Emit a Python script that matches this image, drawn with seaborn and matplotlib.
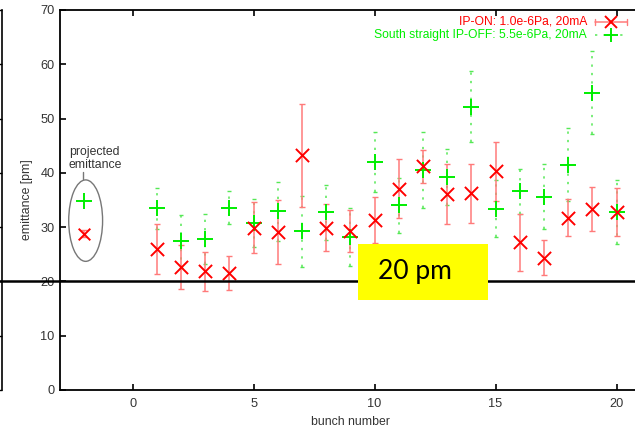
import numpy as np
import pandas as pd
import matplotlib
matplotlib.use("Agg")
import matplotlib.pyplot as plt
from matplotlib.patches import Ellipse, Rectangle
from matplotlib.lines import Line2D
import seaborn as sns

# Bunch-by-bunch vertical emittance [pm]
bunch = list(range(1, 21))
ip_on = [25.9, 22.7, 21.9, 21.5, 29.9, 29.1, 43.2, 29.9, 29.3, 31.3,
         37.1, 41.2, 36.1, 36.2, 40.3, 27.2, 24.4, 31.7, 33.3, 32.8]
ip_on_err = [4.6, 4.1, 3.6, 3.1, 4.7, 5.9, 9.5, 4.3, 3.8, 4.3,
             5.5, 3.1, 5.5, 5.5, 5.4, 5.3, 3.2, 3.4, 4.1, 4.5]
ip_off = [33.5, 27.4, 27.9, 33.6, 30.8, 32.9, 29.2, 32.7, 28.2, 42.0,
          34.0, 40.5, 39.2, 52.2, 33.4, 36.6, 35.6, 41.5, 54.8, 32.8]
ip_off_err = [3.8, 4.9, 4.6, 3.0, 4.4, 5.4, 6.5, 5.0, 5.3, 5.6,
              5.0, 7.0, 5.2, 6.5, 5.3, 4.2, 6.0, 6.7, 7.6, 5.9]

# Projected emittance, shown at a dummy position left of bunch 1
proj_x = -2
proj_on, proj_on_err = 28.8, 0.6
proj_off = 34.8

label_on = "IP-ON: 1.0e-6Pa, 20mA"
label_off = "South straight IP-OFF: 5.5e-6Pa, 20mA"
x_ticks = [0, 5, 10, 15, 20]
y_ticks = [0, 10, 20, 30, 40, 50, 60, 70]
target = 20

df = pd.DataFrame({
    "bunch": bunch + bunch,
    "emittance": ip_on + ip_off,
    "err": ip_on_err + ip_off_err,
    "case": [label_on] * len(bunch) + [label_off] * len(bunch),
})

sns.set_theme(style="ticks")
plt.rcParams["font.family"] = ["Liberation Sans", "DejaVu Sans"]

RED = "#ff0000"
RED_BAR = "#ff7a7a"
GREEN = "#00ee00"
GREEN_BAR = "#55e855"
TEXT = "#333333"

fig = plt.figure(figsize=(6.35, 4.29), dpi=100)
W, H = 635, 429
ax = fig.add_axes([60 / W, (H - 390) / H, 580.8 / W, 380 / H])

# Neighbouring panel edge at the far left
ax_edge = fig.add_axes([-0.5, (H - 390) / H, 0.5 + 2 / W, 380 / H])
ax_edge.set_ylim(0, 70)
ax_edge.set_xticks([])
ax_edge.set_yticks(y_ticks)
ax_edge.tick_params(axis="y", left=False, right=True, labelleft=False,
                    direction="in", length=3, width=1, color="black")
for s in ["left", "top", "bottom"]:
    ax_edge.spines[s].set_visible(False)
ax_edge.spines["right"].set_color("black")
ax_edge.spines["right"].set_linewidth(1.2)
ax_edge.patch.set_visible(False)

on = df[df["case"] == label_on]
off = df[df["case"] == label_off]

# Error bars
eb_off = ax.errorbar(off["bunch"], off["emittance"], yerr=off["err"], fmt="none",
                     ecolor=GREEN_BAR, elinewidth=1.1, capsize=1.5, capthick=1.0, zorder=2)
eb_off[2][0].set_linestyle((0, (1.5, 4)))
ax.errorbar(on["bunch"], on["emittance"], yerr=on["err"], fmt="none",
            ecolor=RED_BAR, elinewidth=1.1, capsize=2.5, capthick=1.0, zorder=3)
ax.errorbar([proj_x], [proj_on], yerr=[proj_on_err], fmt="none",
            ecolor=RED_BAR, elinewidth=1.1, capsize=2.5, capthick=1.0, zorder=3)

# Markers
sns.scatterplot(data=off, x="bunch", y="emittance", marker="+", color=GREEN,
                s=130, linewidth=1.4, ax=ax, zorder=4, legend=False)
sns.scatterplot(data=on, x="bunch", y="emittance", marker="x", color=RED,
                s=90, linewidth=1.4, ax=ax, zorder=5, legend=False)
sns.scatterplot(x=[proj_x], y=[proj_off], marker="+", color=GREEN,
                s=130, linewidth=1.4, ax=ax, zorder=4, legend=False)
sns.scatterplot(x=[proj_x], y=[proj_on], marker="x", color=RED,
                s=70, linewidth=1.4, ax=ax, zorder=5, legend=False)

# Circle around the projected values
ax.add_patch(Ellipse((-1.94, 31.2), 1.4, 15.0, fill=False,
                     edgecolor="#777777", linewidth=1.0, zorder=3))
ax.plot([-2.07, -2.07], [38.8, 40.1], color="#777777", linewidth=1.0)
ax.text(-2.63, 40.4, "projected\nemittance", fontsize=8.8, color=TEXT,
        ha="left", va="bottom", linespacing=1.1)

# Target line across the full width
ax.plot([-6, 22], [target, target], color="black", linewidth=1.8,
        clip_on=False, zorder=6)

ax.set_xlim(-3, 21)
ax.set_ylim(0, 70)
ax.set_xticks(x_ticks)
ax.set_yticks(y_ticks)
ax.tick_params(axis="both", direction="in", length=4, width=1.2,
               labelsize=9.2, labelcolor=TEXT, color="black")
ax.tick_params(axis="x", top=True, pad=6)
ax.tick_params(axis="y", right=False, pad=4)
for s in ["left", "bottom", "top", "right"]:
    ax.spines[s].set_linewidth(1.3)
    ax.spines[s].set_color("black")
ax.set_xlabel("bunch number", fontsize=8.8, color=TEXT, labelpad=4)
ax.set_ylabel("emittance [pm]", fontsize=8.8, color=TEXT, labelpad=5)

# Legend (handles drawn to the right of the text)
tf = fig.transFigure
y1, y2 = 1 - 21.7 / H, 1 - 35.0 / H
xt, xa, xb, xm = 587 / W, 595 / W, 627 / W, 611 / W
fig.text(xt, y1, label_on, color=RED, fontsize=8.7, ha="right", va="center")
fig.text(xt, y2, label_off, color=GREEN, fontsize=8.7, ha="right", va="center")
fig.add_artist(Line2D([xa, xb], [y1, y1], transform=tf, color=RED_BAR, linewidth=1.1))
for xc in (xa, xb):
    fig.add_artist(Line2D([xc, xc], [y1 - 3 / H, y1 + 3 / H], transform=tf,
                          color=RED_BAR, linewidth=1.0))
fig.add_artist(Line2D([xm], [y1], transform=tf, marker="x", markersize=9,
                      markeredgewidth=1.4, color=RED, linestyle="none"))
fig.add_artist(Line2D([xa, xb], [y2, y2], transform=tf, color=GREEN_BAR,
                      linewidth=1.1, linestyle=(0, (1.5, 4))))
fig.add_artist(Line2D([xm], [y2], transform=tf, marker="+", markersize=10,
                      markeredgewidth=1.4, color=GREEN, linestyle="none"))

# Highlighted target annotation
fig.add_artist(Rectangle((358 / W, 1 - 300 / H), 130 / W, 56 / H, transform=tf,
                         facecolor="#ffff00", edgecolor="none", zorder=10))
fig.text(378 / W, 1 - 272 / H, "20 pm", fontsize=19, color="black",
         family=["Lato", "DejaVu Sans"], ha="left", va="center", zorder=11)

fig.savefig("out.png", dpi=100)
